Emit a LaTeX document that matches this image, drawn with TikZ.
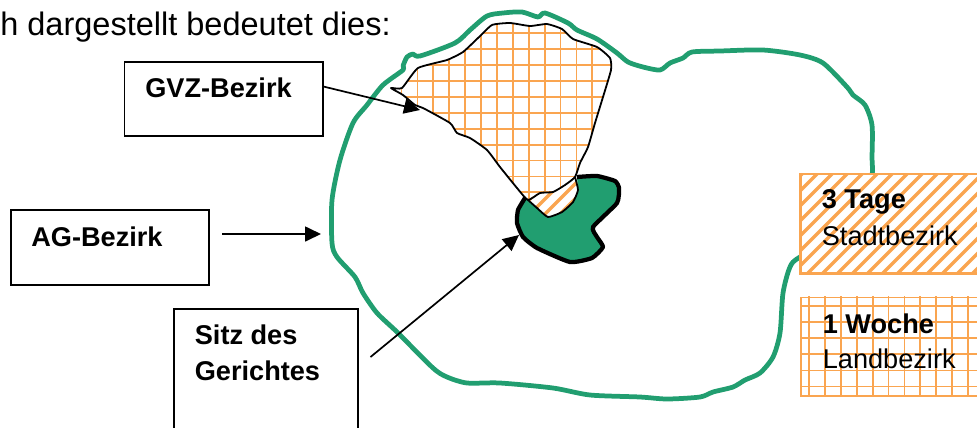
\documentclass[tikz,border=0pt]{standalone}
\usepackage{fontspec}
\setmainfont{Liberation Sans}
\usetikzlibrary{arrows.meta}
\definecolor{cgreen}{RGB}{33,158,112}
\definecolor{corange}{RGB}{250,165,80}
\tikzset{
  labelbox/.style={draw=black,line width=0.036cm,fill=white,anchor=north west,inner sep=0pt},
  labelbold/.style={anchor=base west,inner sep=0pt,font=\fontsize{15.45}{18}\selectfont\bfseries},
  labelplain/.style={anchor=base west,inner sep=0pt,font=\fontsize{15.45}{18}\selectfont},
  pointer/.style={draw=black,line width=0.034cm,-{Triangle[length=0.32cm,width=0.3cm]}},
  gridline/.style={corange,line width=0.036cm},
  stripeline/.style={corange,line width=0.07cm},
  legendbox/.style={draw=corange,line width=0.03cm,fill=white,anchor=north west,inner sep=0pt,minimum width=3.8cm,minimum height=1.98cm}
}
\begin{document}
\begin{tikzpicture}[x=0.02cm,y=-0.02cm]
\useasboundingbox (0,0) rectangle (977,427);
\clip (0,0) rectangle (977,427);
% district outline
\draw[cgreen,line width=0.095cm,line join=round] plot[smooth cycle,tension=0.45] coordinates {
  (403,66) (407,57) (413,54) (420,56) (455,43) (470,30) (487,16) (503,13) (522,12) (538,17) (545,13)
  (568,23) (577,30) (597,39) (617,53) (628,62) (643,67) (660,70) (670,63) (683,58) (692,52)
  (720,51) (763,50) (800,55) (823,63) (847,87) (853,95) (865,105) (872,125) (872,157) (871,180)
  (850,230) (800,257) (790,267) (783,293) (780,333) (773,357) (760,373) (745,380) (733,387) (713,392)
  (700,397) (667,399) (640,397) (590,395) (553,388) (500,383) (467,383) (447,377) (433,368) (397,332)
  (377,313) (363,293) (355,277) (337,257) (332,243) (332,200) (340,160) (353,123) (367,105) (383,85) (403,70)};
% court seat
\fill[cgreen] (577,177) -- (597,176) -- (615,181) -- (619,188) -- (617,203) -- (593,227) -- (597,237)
  -- (603,247) -- (592,258) -- (570,262) -- (537,248) -- (523,237) -- (517,223) -- (518,210) -- (525,198)
  -- (537,208) -- (548,217) -- (562,212) -- (573,202) -- (578,190) -- cycle;
\draw[black,line width=0.085cm,line join=round] plot[smooth,tension=0.3] coordinates {
  (577,177) (597,176) (615,181) (619,188) (617,203) (593,227) (597,237) (603,247) (592,258) (570,262)
  (537,248) (523,237) (517,223) (518,210) (525,198)};
% town part
\begin{scope}
\clip plot[smooth cycle,tension=0.3] coordinates {(528,200) (540,193) (553,192) (565,185) (575,177) (578,190) (573,202) (562,212) (548,217) (537,208)};
\fill[white] (510,170) rectangle (590,225);
\foreach \i in {0,...,6} \draw[stripeline] ({489+15*\i},225) -- ++(60,-60);
\end{scope}
% country part
\begin{scope}
\clip plot[smooth cycle,tension=0.3] coordinates {(391,88) (402,88) (418,68) (447,60) (463,52) (478,38) (492,25) (510,23)
  (530,26) (547,24) (562,29) (573,39) (597,47) (610,58) (611,70) (603,97) (595,123) (588,147) (580,163) (575,177)
  (565,185) (553,192) (540,193) (528,200) (517,188) (500,167) (487,150) (470,138) (457,133) (450,123) (423,108) (415,105) (403,95)};
\foreach \i in {0,...,12} \draw[gridline] ({401.5+15.9*\i},20) -- ++(0,190);
\foreach \i in {0,...,11} \draw[gridline] (385,{33.3+15.9*\i}) -- ++(235,0);
\end{scope}
\draw[black,line width=0.036cm,line join=round] plot[smooth cycle,tension=0.3] coordinates {(391,88) (402,88) (418,68) (447,60) (463,52) (478,38) (492,25) (510,23)
  (530,26) (547,24) (562,29) (573,39) (597,47) (610,58) (611,70) (603,97) (595,123) (588,147) (580,163) (575,177)
  (565,185) (553,192) (540,193) (528,200) (517,188) (500,167) (487,150) (470,138) (457,133) (450,123) (423,108) (415,105) (403,95)};
\draw[black,line width=0.036cm,line join=round] plot[smooth,tension=0.3] coordinates {(575,177) (578,190) (573,202) (562,212) (548,217) (537,208) (528,200)};
% heading
\node[labelplain,font=\fontsize{18.5}{22}\selectfont] (heading) at (0,35) {h dargestellt bedeutet dies:};
% boxes left
\node[labelbox,minimum width=3.97cm,minimum height=1.48cm] (gvzbox) at (123.5,61) {};
\node[labelbold] (gvzlabel) at (145,97.5) {GVZ-Bezirk};
\node[labelbox,minimum width=3.97cm,minimum height=1.5cm] (agbox) at (10,209) {};
\node[labelbold] (aglabel) at (31,246) {AG-Bezirk};
\node[labelbox,minimum width=3.68cm,minimum height=2.8cm] (sitzbox) at (173,308) {};
\node[labelbold] (sitzlabel) at (194.5,344) {Sitz des};
\node[labelbold] (gerichtlabel) at (194.5,380) {Gerichtes};
\coordinate (gvztip) at (420,110);
\coordinate (agstart) at (222,234);
\coordinate (agtip) at (321,234);
\coordinate (sitzstart) at (370.5,357);
\coordinate (sitztip) at (519,235);
\draw[pointer] (gvzbox.7) -- (gvztip);
\draw[pointer] (agstart) -- (agtip);
\draw[pointer] (sitzstart) -- (sitztip);
% legend
\node[legendbox] (stadtbox) at (800,173.5) {};
\begin{scope}
\clip (800,173.5) rectangle (980,272.5);
\foreach \i in {-8,...,19} \draw[stripeline] ({786+15*\i},280) -- ++(120,-120);
\end{scope}
\draw[corange,line width=0.03cm] (stadtbox.south west) rectangle (stadtbox.north east);
\node[labelbold] (stadtlabel) at (821.5,208) {3 Tage};
\node[labelplain] (stadttext) at (821.5,245) {Stadtbezirk};
\node[legendbox] (landbox) at (800,296.5) {};
\begin{scope}
\clip (800,296.5) rectangle (980,395.5);
\foreach \i in {0,...,11} \draw[gridline] ({809+15.9*\i},296) -- ++(0,100);
\foreach \i in {0,...,5} \draw[gridline] (800,{306+16.1*\i}) -- ++(180,0);
\end{scope}
\node[labelbold] (landlabel) at (822.5,333) {1 Woche};
\node[labelplain] (landtext) at (822.5,368) {Landbezirk};
\end{tikzpicture}
\end{document}
